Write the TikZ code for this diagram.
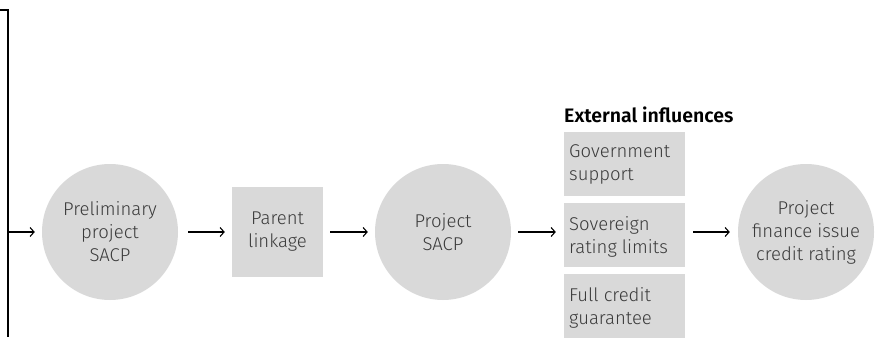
\documentclass[tikz,border=0pt]{standalone}
\usepackage{fontspec}
\setmainfont{Fira Sans}[UprightFont={* Light}, BoldFont={* SemiBold}]
\usetikzlibrary{arrows.meta}
\definecolor{boxgray}{HTML}{D9D9D9}
\definecolor{txt}{HTML}{3A3A3A}
\tikzset{
  lbl/.style={text=txt, font=\fontsize{18.5}{23}\selectfont},
  circ/.style={lbl, circle, fill=boxgray, minimum size=136pt, inner sep=0pt, align=center},
  sqbox/.style={lbl, rectangle, fill=boxgray, minimum width=91pt, minimum height=90pt, inner sep=0pt, align=center},
  infbox/.style={rectangle, fill=boxgray, minimum width=121pt, minimum height=64pt, inner sep=0pt},
  inftext/.style={lbl, anchor=north west, align=left, inner sep=0pt},
  conn/.style={line width=1.1pt, -{Straight Barb[length=4pt, width=9pt]}},
}
\begin{document}
\begin{tikzpicture}[x=1pt, y=-1pt]
\useasboundingbox (0,0) rectangle (882,339);
% left bracket
\coordinate (bt) at (8,10);
\coordinate (bb) at (8,337);
\coordinate (b0) at (0,10);
\coordinate (bm) at (8,232);
\draw[line width=1.1pt] (b0) -- (bt) -- (bb);
\node[circ] (c1) at (110,232) {Preliminary\\project\\SACP};
\node[sqbox] (p) at (277.5,232) {Parent\\linkage};
\node[circ] (c2) at (443,232) {Project\\SACP};
\node[infbox] (g) at (624.5,164) {};
\node[infbox] (s) at (624.5,235) {};
\node[infbox] (f) at (624.5,306) {};
\node[inftext] (gt) at (569,144.5) {Government\\support};
\node[inftext] (st) at (569,216.5) {Sovereign\\rating limits};
\node[inftext] (ft) at (569,287.5) {Full credit\\guarantee};
\node[anchor=base west, inner sep=0pt, text=black, font=\fontsize{19.5}{23}\selectfont\bfseries] (ext) at (564,123) {External influences};
\node[circ] (c3) at (806,232) {Project\\finance issue\\credit rating};
\draw[conn] (bm) -- ([xshift=-7pt]c1.west);
\draw[conn] ([xshift=10pt]c1.east) -- ([xshift=-7pt]p.west);
\draw[conn] ([xshift=7pt]p.east) -- ([xshift=-7pt]c2.west);
\draw[conn] ([xshift=7pt]c2.east) -- ([xshift=-8pt]s.west |- c2.east);
\draw[conn] ([xshift=8pt]s.east |- c3.west) -- ([xshift=-8pt]c3.west);
\end{tikzpicture}
\end{document}
